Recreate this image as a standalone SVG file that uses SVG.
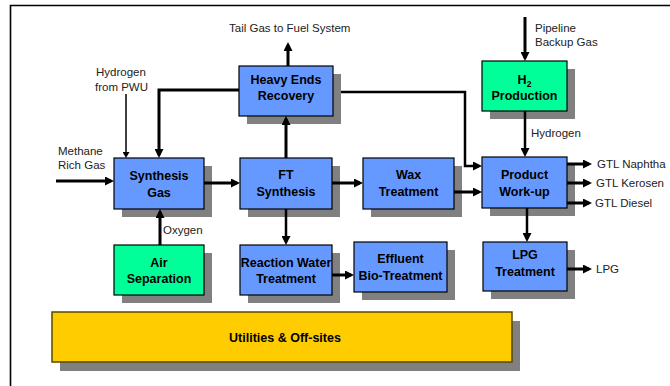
<svg xmlns="http://www.w3.org/2000/svg" width="670" height="386" viewBox="0 0 670 386">
<defs>
<style>
.sh{fill:#808080;}
.blue{fill:#6699FF;stroke:#000;stroke-width:1.2;}
.green{fill:#00FF99;stroke:#000;stroke-width:1.2;}
.yellow{fill:#FFCC00;stroke:#5a4a00;stroke-width:1.5;}
.t{font-family:"Liberation Sans",Arial,sans-serif;font-size:12.5px;font-weight:bold;fill:#000;text-anchor:middle;}
.l{font-family:"Liberation Sans",Arial,sans-serif;font-size:11.5px;fill:#222;}
.c{fill:none;stroke:#000;stroke-width:3;}
.cm{fill:none;stroke:#000;stroke-width:2.5;}
.cs{fill:none;stroke:#000;stroke-width:1.5;}
</style>
<marker id="ah" viewBox="0 0 9 9" markerWidth="9" markerHeight="9" refX="6" refY="4.5" orient="auto" markerUnits="userSpaceOnUse"><path d="M0,0 L9,4.5 L0,9 z" fill="#000"/></marker>
<marker id="as" viewBox="0 0 6 7" markerWidth="6" markerHeight="7" refX="4" refY="3.5" orient="auto" markerUnits="userSpaceOnUse"><path d="M0,0 L6,3.5 L0,7 z" fill="#000"/></marker>
</defs>
<rect x="0" y="0" width="670" height="386" fill="#fff"/>
<path d="M10.5,386 V5.5 H670" fill="none" stroke="#000" stroke-width="1.6"/>

<g id="heavy-ends">
<rect class="sh" x="247" y="74" width="94" height="50"/>
<rect class="blue" x="239" y="66" width="94" height="50"/>
<text class="t" x="286" y="84">Heavy Ends</text>
<text class="t" x="286" y="100">Recovery</text>
</g>
<g id="synthesis-gas">
<rect class="sh" x="122" y="166" width="90" height="51"/>
<rect class="blue" x="114" y="158" width="90" height="51"/>
<text class="t" x="159" y="180">Synthesis</text>
<text class="t" x="159" y="197">Gas</text>
</g>
<g id="ft-synthesis">
<rect class="sh" x="248" y="166" width="92" height="51"/>
<rect class="blue" x="240" y="158" width="92" height="51"/>
<text class="t" x="286" y="179">FT</text>
<text class="t" x="286" y="196">Synthesis</text>
</g>
<g id="wax-treatment">
<rect class="sh" x="371" y="166" width="91" height="51"/>
<rect class="blue" x="363" y="158" width="91" height="51"/>
<text class="t" x="408.5" y="179">Wax</text>
<text class="t" x="408.5" y="196">Treatment</text>
</g>
<g id="product-workup">
<rect class="sh" x="490" y="165" width="85" height="51"/>
<rect class="blue" x="482" y="157" width="85" height="51"/>
<text class="t" x="524.5" y="179">Product</text>
<text class="t" x="524.5" y="196">Work-up</text>
</g>
<g id="h2-production">
<rect class="sh" x="490" y="69" width="85" height="50"/>
<rect class="green" x="482" y="61" width="85" height="50"/>
<text class="t" x="524.5" y="84">H<tspan font-size="8.5" dy="3">2</tspan></text>
<text class="t" x="524.5" y="100">Production</text>
</g>
<g id="air-separation">
<rect class="sh" x="122" y="253" width="90" height="50"/>
<rect class="green" x="114" y="245" width="90" height="50"/>
<text class="t" x="159" y="267">Air</text>
<text class="t" x="159" y="283">Separation</text>
</g>
<g id="reaction-water">
<rect class="sh" x="248" y="253" width="92" height="50"/>
<rect class="blue" x="240" y="245" width="92" height="50"/>
<text class="t" x="286" y="267">Reaction Water</text>
<text class="t" x="286" y="283">Treatment</text>
</g>
<g id="effluent">
<rect class="sh" x="362" y="250" width="93" height="50"/>
<rect class="blue" x="354" y="242" width="93" height="50"/>
<text class="t" x="400.5" y="263">Effluent</text>
<text class="t" x="400.5" y="280">Bio-Treatment</text>
</g>
<g id="lpg-treatment">
<rect class="sh" x="491" y="250" width="84" height="49"/>
<rect class="blue" x="483" y="242" width="84" height="49"/>
<text class="t" x="525" y="259">LPG</text>
<text class="t" x="525" y="276">Treatment</text>
</g>
<g id="utilities">
<rect class="sh" x="60" y="321" width="460" height="50"/>
<rect class="yellow" x="52" y="312" width="460" height="50"/>
<text class="t" x="285" y="342">Utilities &amp; Off-sites</text>
</g>

<g id="connectors">
<path class="c" d="M56,181 H111" marker-end="url(#ah)"/>
<path class="cs" d="M126,94 V156" marker-end="url(#as)"/>
<path class="c" d="M239,90 H159 V155" marker-end="url(#ah)"/>
<path class="c" d="M204,183 H237" marker-end="url(#ah)"/>
<path class="c" d="M286,158 V119" marker-end="url(#ah)"/>
<path class="c" d="M288,66 V45" marker-end="url(#ah)"/>
<path class="cm" d="M341,92 H465 V166 H479" marker-end="url(#ah)"/>
<path class="c" d="M332,183 H360" marker-end="url(#ah)"/>
<path class="c" d="M454,192 H479" marker-end="url(#ah)"/>
<path class="cm" d="M286,209 V242" marker-end="url(#ah)"/>
<path class="c" d="M332,275 H351" marker-end="url(#ah)"/>
<path class="c" d="M160,245 V212" marker-end="url(#ah)"/>
<path class="c" d="M525,17 V58" marker-end="url(#ah)"/>
<path class="cm" d="M525,111 V154" marker-end="url(#ah)"/>
<path class="c" d="M567,164 H589" marker-end="url(#ah)"/>
<path class="c" d="M567,183 H589" marker-end="url(#ah)"/>
<path class="c" d="M567,203 H589" marker-end="url(#ah)"/>
<path class="cm" d="M527,208 V239" marker-end="url(#ah)"/>
<path class="c" d="M567,269 H589" marker-end="url(#ah)"/>
</g>

<g id="labels">
<text class="l" x="229" y="32">Tail Gas to Fuel System</text>
<text class="l" x="96" y="76">Hydrogen</text>
<text class="l" x="95" y="91">from PWU</text>
<text class="l" x="58" y="155">Methane</text>
<text class="l" x="58" y="169">Rich Gas</text>
<text class="l" x="163" y="234">Oxygen</text>
<text class="l" x="535" y="32">Pipeline</text>
<text class="l" x="535" y="46">Backup Gas</text>
<text class="l" x="531" y="137">Hydrogen</text>
<text class="l" x="597" y="168">GTL Naphtha</text>
<text class="l" x="596" y="187">GTL Kerosen</text>
<text class="l" x="595" y="207">GTL Diesel</text>
<text class="l" x="596" y="273">LPG</text>
</g>
</svg>
